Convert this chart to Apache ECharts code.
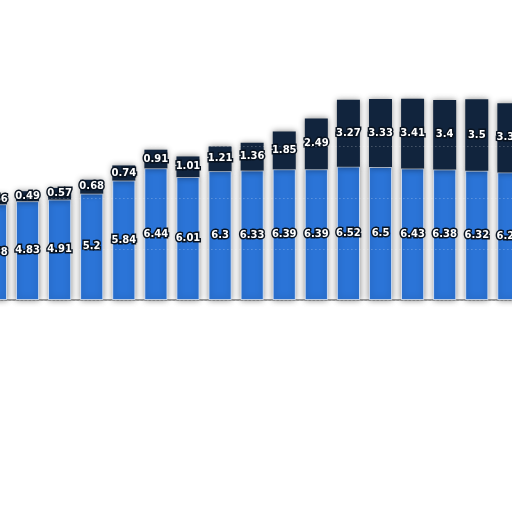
<!DOCTYPE html>
<html>
<head>
<meta charset="utf-8">
<script src="https://cdn.jsdelivr.net/npm/echarts@6/dist/echarts.min.js"></script>
<style>html,body{margin:0;padding:0;background:#fff}#c{width:512px;height:512px}</style>
</head>
<body>
<div id="c"></div>
<script>
var categories = ['1','2','3','4','5','6','7','8','9','10','11','12','13','14','15','16','17'];
var lowerValues = [4.68, 4.83, 4.91, 5.2, 5.84, 6.44, 6.01, 6.3, 6.33, 6.39, 6.39, 6.52, 6.5, 6.43, 6.38, 6.32, 6.24];
var upperValues = [0.46, 0.49, 0.57, 0.68, 0.74, 0.91, 1.01, 1.21, 1.36, 1.85, 2.49, 3.27, 3.33, 3.41, 3.4, 3.5, 3.38];
var yTicks = [0, 2.5, 5, 7.5, 10, 12.5];

var chart = echarts.init(document.getElementById('c'), null, {renderer: 'canvas'});
var labelStyle = {
  show: true,
  position: 'inside',
  color: '#fff',
  fontFamily: 'DejaVu Sans',
  fontWeight: 'bold',
  fontSize: 10,
  textBorderColor: '#08121f',
  textBorderWidth: 3
};
chart.setOption({
  animation: false,
  backgroundColor: '#fff',
  grid: {left: -20.6, width: 545.5, top: 300 - 12.5 * 20.45, height: 12.5 * 20.45, containLabel: false, outerBoundsMode: 'none'},
  xAxis: {
    type: 'category',
    data: categories,
    axisLine: {show: true, lineStyle: {color: '#a0a0a0', width: 2}},
    axisTick: {show: false},
    axisLabel: {show: false}
  },
  yAxis: {
    type: 'value',
    min: yTicks[0],
    max: yTicks[yTicks.length - 1],
    interval: 2.5,
    z: 10,
    axisLine: {show: false},
    axisTick: {show: false},
    axisLabel: {show: false},
    splitLine: {show: true, lineStyle: {color: 'rgba(255,255,255,0.35)', type: [1, 3], width: 1}}
  },
  series: [
    {
      type: 'bar',
      stack: 's',
      data: lowerValues,
      barWidth: 23,
      itemStyle: {color: '#2b74d7', borderColor: '#e6eefa', borderWidth: 0.8, shadowColor: 'rgba(0,0,0,0.45)', shadowBlur: 6},
      label: labelStyle
    },
    {
      type: 'bar',
      stack: 's',
      data: upperValues,
      barWidth: 23,
      itemStyle: {color: '#11243d', shadowColor: 'rgba(0,0,0,0.45)', shadowBlur: 6},
      label: labelStyle
    }
  ]
});
</script>
</body>
</html>
